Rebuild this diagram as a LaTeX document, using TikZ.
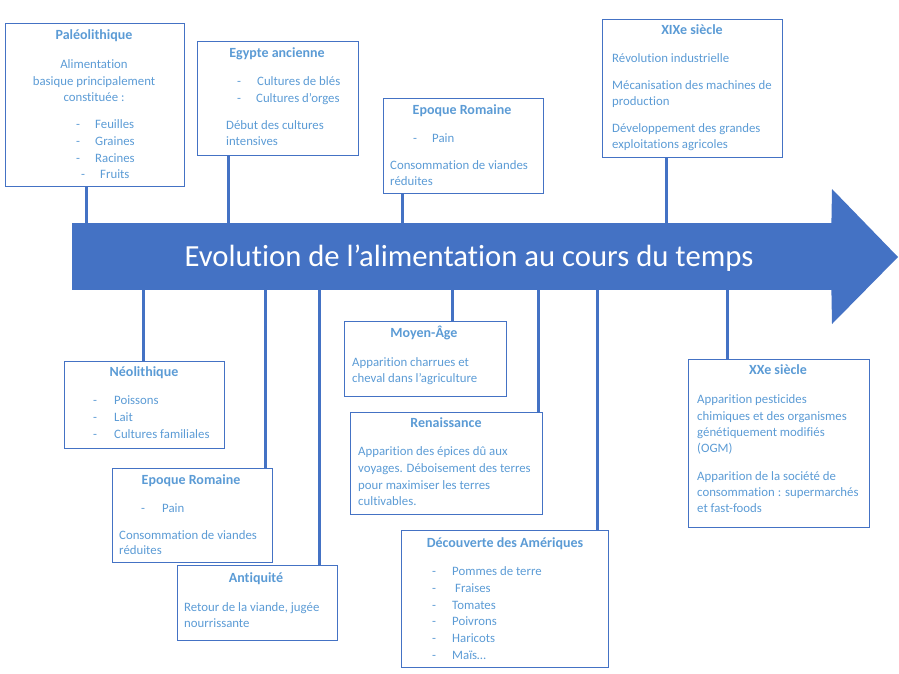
\documentclass[tikz,border=0pt]{standalone}
\usepackage{fontspec}
\setmainfont{Carlito}[Ligatures=CommonOff]
\definecolor{boxc}{HTML}{4472C4}
\definecolor{txt}{HTML}{5B9BD5}
\begin{document}
\begin{tikzpicture}[x=1pt,y=-1pt,
  box/.style={draw=boxc,line width=1.1pt,inner sep=0pt,anchor=north west},
  ttl/.style={font=\bfseries\fontsize{14}{16}\selectfont,text=txt,inner sep=0pt,anchor=mid,yshift=-2.5pt},
  tx/.style={font=\fontsize{12.8}{15}\selectfont,text=txt,inner sep=0pt,anchor=mid west,yshift=-2.5pt},
  txc/.style={font=\fontsize{12.8}{15}\selectfont,text=txt,inner sep=0pt,anchor=mid,yshift=-2.5pt},
  link/.style={draw=boxc,line width=3pt}]
\useasboundingbox (0,0) rectangle (899,674);
% arrow
\node[fill=boxc,inner sep=0pt,minimum width=760pt,minimum height=67pt,anchor=north west] (axis) at (72,223) {};
\coordinate (ht) at (832,189);
\coordinate (tip) at (898,257);
\coordinate (hb) at (832,324);
\fill[boxc] ([xshift=-1pt]axis.north east) -- (ht) -- (tip) -- (hb) -- ([xshift=-1pt]axis.south east) -- cycle;
\node[text=white,font=\fontsize{30.7}{34}\selectfont,inner sep=0pt,anchor=mid] (title) at (469,264) {Evolution de l’alimentation au cours du temps};

% boxes top
\node[box,minimum width=179pt,minimum height=163pt] (b1) at (5,23) {};
\node[ttl] (b1t) at (94,35) {Paléolithique};
\node[txc] (b1a) at (94,64) {Alimentation};
\node[txc] (b1b) at (94,81) {basique principalement};
\node[txc] (b1c) at (94,97) {constituée :};
\node[tx] (b1d1) at (76,124) {-}; \node[tx] (b1e1) at (95,124) {Feuilles};
\node[tx] (b1d2) at (76,141) {-}; \node[tx] (b1e2) at (95,141) {Graines};
\node[tx] (b1d3) at (76,158) {-}; \node[tx] (b1e3) at (95,158) {Racines};
\node[tx] (b1d4) at (81,174) {-}; \node[tx] (b1e4) at (100,174) {Fruits};

\node[box,minimum width=161pt,minimum height=114pt] (b2) at (197,41) {};
\node[ttl] (b2t) at (277,53) {Egypte ancienne};
\node[tx] (b2d1) at (237,81) {-}; \node[tx] (b2e1) at (257,81) {Cultures de blés};
\node[tx] (b2d2) at (237,98) {-}; \node[tx] (b2e2) at (256,98) {Cultures d’orges};
\node[tx] (b2a) at (226,125) {Début des cultures};
\node[tx] (b2b) at (226,141) {intensives};

\node[box,minimum width=160pt,minimum height=95pt] (b3) at (383,98) {};
\node[ttl] (b3t) at (462,110) {Epoque Romaine};
\node[tx] (b3d1) at (413,138) {-}; \node[tx] (b3e1) at (432,138) {Pain};
\node[tx] (b3a) at (390,165) {Consommation de viandes};
\node[tx] (b3b) at (390,181) {réduites};

\node[box,minimum width=180pt,minimum height=138pt] (b4) at (602,19) {};
\node[ttl] (b4t) at (692,30) {XIXe siècle};
\node[tx] (b4a) at (612,58) {Révolution industrielle};
\node[tx] (b4b) at (612,85) {Mécanisation des machines de};
\node[tx] (b4c) at (612,101) {production};
\node[tx] (b4d) at (612,128) {Développement des grandes};
\node[tx] (b4e) at (612,144) {exploitations agricoles};

% boxes bottom
\node[box,minimum width=160pt,minimum height=87pt] (b5) at (64,361) {};
\node[ttl] (b5t) at (144,372) {Néolithique};
\node[tx] (b5d1) at (93,400) {-}; \node[tx] (b5e1) at (114,400) {Poissons};
\node[tx] (b5d2) at (93,417) {-}; \node[tx] (b5e2) at (114,417) {Lait};
\node[tx] (b5d3) at (93,434) {-}; \node[tx] (b5e3) at (114,434) {Cultures familiales};

\node[box,minimum width=160pt,minimum height=94pt] (b6) at (112,468) {};
\node[ttl] (b6t) at (191,480) {Epoque Romaine};
\node[tx] (b6d1) at (141,508) {-}; \node[tx] (b6e1) at (162,508) {Pain};
\node[tx] (b6a) at (119,535) {Consommation de viandes};
\node[tx] (b6b) at (119,550) {réduites};

\node[box,minimum width=160pt,minimum height=75pt] (b7) at (177,565) {};
\node[ttl] (b7t) at (256,578) {Antiquité};
\node[tx] (b7a) at (184,607) {Retour de la viande, jugée};
\node[tx] (b7b) at (184,623) {nourrissante};

\node[box,minimum width=162pt,minimum height=75pt] (b8) at (344,321) {};
\node[ttl] (b8t) at (424,333) {Moyen-Âge};
\node[tx] (b8a) at (352,362) {Apparition charrues et};
\node[tx] (b8b) at (352,378) {cheval dans l’agriculture};

\node[box,minimum width=192pt,minimum height=102pt] (b9) at (350,412) {};
\node[ttl] (b9t) at (446,423) {Renaissance};
\node[tx] (b9a) at (358,451) {Apparition des épices dû aux};
\node[tx] (b9b) at (358,468) {voyages. Déboisement des terres};
\node[tx] (b9c) at (358,485) {pour maximiser les terres};
\node[tx] (b9d) at (358,501) {cultivables.};

\node[box,minimum width=207pt,minimum height=137pt] (b10) at (401,530) {};
\node[ttl] (b10t) at (505,543) {Découverte des Amériques};
\node[tx] (b10d1) at (432,571) {-}; \node[tx] (b10e1) at (452,571) {Pommes de terre};
\node[tx] (b10d2) at (432,588) {-}; \node[tx] (b10e2) at (455,588) {Fraises};
\node[tx] (b10d3) at (432,605) {-}; \node[tx] (b10e3) at (452,605) {Tomates};
\node[tx] (b10d4) at (432,621) {-}; \node[tx] (b10e4) at (452,621) {Poivrons};
\node[tx] (b10d5) at (432,638) {-}; \node[tx] (b10e5) at (452,638) {Haricots};
\node[tx] (b10d6) at (432,655) {-}; \node[tx] (b10e6) at (452,655) {Maïs…};

\node[box,minimum width=181pt,minimum height=168pt] (b11) at (688,359) {};
\node[ttl] (b11t) at (778,370) {XXe siècle};
\node[tx] (b11a) at (697,399) {Apparition pesticides};
\node[tx] (b11b) at (697,416) {chimiques et des organismes};
\node[tx] (b11c) at (697,432) {génétiquement modifiés};
\node[tx] (b11d) at (697,448) {(OGM)};
\node[tx] (b11e) at (697,476) {Apparition de la société de};
\node[tx] (b11f) at (697,492) {consommation : supermarchés};
\node[tx] (b11g) at (697,508) {et fast-foods};

% connector x positions
\coordinate (x1) at (86,0);
\coordinate (x2) at (228,0);
\coordinate (x3) at (402,0);
\coordinate (x4) at (666,0);
\coordinate (x5) at (143,0);
\coordinate (x6) at (265,0);
\coordinate (x7) at (319,0);
\coordinate (x8) at (452,0);
\coordinate (x9) at (538,0);
\coordinate (x10) at (597,0);
\coordinate (x11) at (727,0);

\draw[link] (b1.south -| x1) -- (axis.north -| x1);
\draw[link] (b2.south -| x2) -- (axis.north -| x2);
\draw[link] (b3.south -| x3) -- (axis.north -| x3);
\draw[link] (b4.south -| x4) -- (axis.north -| x4);
\draw[link] (axis.south -| x5) -- (b5.north -| x5);
\draw[link] (axis.south -| x6) -- (b6.north -| x6);
\draw[link] (axis.south -| x7) -- (b7.north -| x7);
\draw[link] (axis.south -| x8) -- (b8.north -| x8);
\draw[link] (axis.south -| x9) -- (b9.north -| x9);
\draw[link] (axis.south -| x10) -- (b10.north -| x10);
\draw[link] (axis.south -| x11) -- (b11.north -| x11);
\end{tikzpicture}
\end{document}
